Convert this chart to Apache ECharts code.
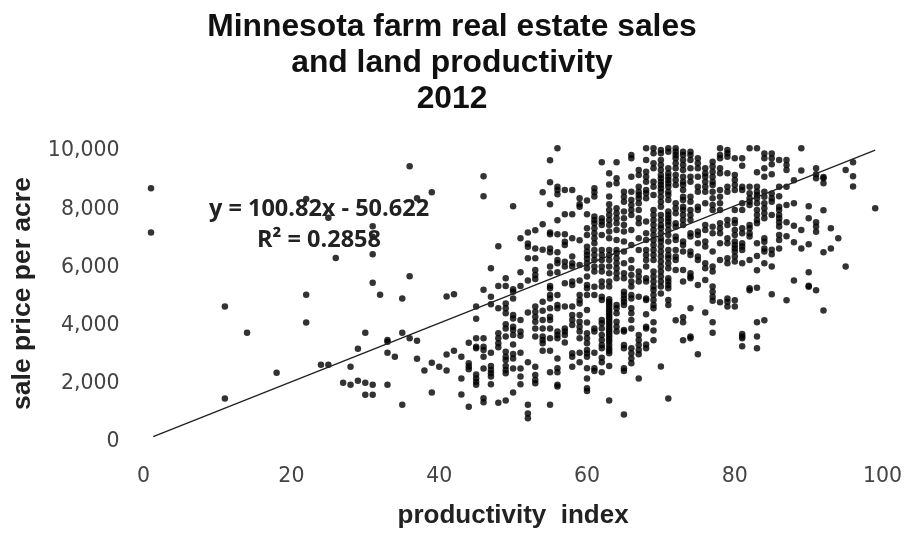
<!DOCTYPE html>
<html><head><meta charset="utf-8">
<script src="https://cdn.jsdelivr.net/npm/echarts@6/dist/echarts.min.js"></script>
<style>html,body{margin:0;padding:0;background:#fff}#c{width:907px;height:533px}</style>
</head><body><div id="c"></div>
<script>
const titleText = "Minnesota farm real estate sales\nand land productivity\n2012";
const xAxisName = "productivity  index";
const yAxisName = "sale price per acre";
const equationText = "y = 100.82x - 50.622\nR² = 0.2858";
const trendLine = [[1.3,80],[99,9930]];
const productivityIndex = [1,11,14,18,22,24,25,26,27,28,29,30,31,32,33,34,35,36,37,38,39,40,41,42,43,44,45,46,47,48,49,50,51,52,53,54,55,56,57,58,59,60,61,62,63,64,65,66,67,68,69,70,71,72,73,74,75,76,77,78,79,80,81,82,83,84,85,86,87,88,89,90,91,92,93,94,95,96,99];
const salePrices = [
[8620,7100],[4550,1390],[3650],[2280],[8250,4960,4000],[2550],[7600,2550],[6220],[1935],[2485,1865],[3100,2000],[3650,1935,1520],
[7310,6950,6345,5370,1865,1520],[4960],[3345,3400,2965,1865],[2830],[4830,3655,1180],[9370,5590,3460],[8270,3380,2760],[2350],[8480,2620,1595],[2485],[4900,2900,2350],[4970,3035],[2830,2075,1525],[3310,2600,2490,2400,1110],
[4550,4135,3460,3170,3115,2220,2085,1970,1860],
[9030,8340,5130,3460,3170,3060,2830,2420,1400,1260],
[5870,4890,4630,2968,2510,2370,2260,2145,1880],
[6620,5260,4490,3630,3460,3290,3150,1250],
[5520,5260,4660,4490,4320,3940,3800,3520,3000,2830,2715,2510,2370,2260,1320],
[8000,5150,5060,4830,4260,4145,3860,3745,3570,3250,2920,2770,2420,1595],
[6900,5730,5260,4090,3690,3550,2968,2420,2145,1880],
[7100,6720,6610,6210,5450,4350,2635,1180,880,710],
[7170,6550,6210,5810,5640,5500,4550,4375,4205,4030,3800,3520,2485,2200,2030,1915],
[8480,7380,6500,4720,4410,4090,3800,3520,3400,3290,3035],
[9575,8820,8065,7100,7035,6550,6420,5925,5695,5260,5180,4950,4830,4490,4205,4090,3800,3460,3035,2290,1180],
[9990,8670,8560,8410,7515,7035,6420,6150,6040,5730,4950,4605,4490,3690,3575,3460,2770,2430,2290,1860,1800],
[8560,7720,7035,6780,6670,6090,5925,5350,4550,3800,3690,3575,3320],
[8560,7720,6900,6270,6040,5925,5410,5295,4550,4260,4090,3920,2945,2830,2485],
[8270,8065,7985,6830,5980,5450,4950,4775,4660,4260,4030,3860,3690,3460,2968,2635],
[8200,7720,7240,7010,6610,6440,6325,6190,6040,5867,5581,5295,5180,4950,4430,4000,3630,3460,3290,3060,2945,2830,2430,2075,1740,1650],
[8615,8480,8330,7642,7527,7413,7241,7069,6898,6726,6497,6325,6153,5924,5753,5230,4950,3800,3690,2968,2430,2340],
[9510,7585,7470,7355,7012,6497,6325,6153,5924,5753,5409,5237,4890,4775,4090,3975,3800,3575,3400,3230,3115,2795,2635,2290],
[9130,8750,8330,8065,7870,7700,7527,7355,7127,6898,6497,6325,6153,5924,5695,5409,5237,4800,4720,4640,4550,4460,4375,4290,4205,4120,4030,3950,3860,3775,3690,3605,3520,3430,3345,3230,3115,3030,2945,2510,1320],
[9510,8958,8787,7928,7756,7585,7413,7184,6840,6497,6382,6211,6039,5867,5695,5524,4605,4490,4320,4030,3860,3690],
[8500,8329,8157,7814,7585,7355,7127,6783,6440,6039,5695,5524,5060,4950,4830,4720,4605,3745,3690,3230,3115,2430,2340,840],
[9760,9645,9016,8500,8214,8043,7871,7699,7184,6669,6153,5867,5638,5409,5237,4950,4830,4490,4320,4090,3800,3115,2945,2770,2600],
[9245,9073,8672,8500,8386,8272,8100,7871,7585,7413,6898,6497,5753,5581,5409,4890,3575,3400,3230,3060,2910,2075],
[9989,9588,9188,9016,8844,8558,8443,8272,7470,7069,6840,6497,6325,6153,5924,5524,5409,4830,4775,4285,3860,3800,3250,3115],
[9989,9817,9474,9302,8844,8672,8386,7871,7699,7527,7355,7184,7012,6840,6669,6497,6325,6153,5753,5581,5409,5237,5120,4950,4775,4605,4490,4010,3725,3390],
[9932,9817,9588,9416,9245,9073,8958,8844,8730,8615,8500,8329,8157,7985,7699,7527,7355,7241,7069,6898,6783,6611,6440,6268,6096,5924,5753,5581,5409,5237,5000,2490],
[9989,9875,9302,9130,9016,8901,8787,8672,8500,8386,8214,7814,7699,7585,7470,7355,7184,7012,6783,6497,6325,6211,6039,5867,5524,5409,5295,5180,4775,4605,1390],
[9989,9875,9760,9645,9474,9302,9073,8901,8730,8100,7928,7756,7413,7298,6955,6840,6497,6268,6153,5810,4080],
[9875,9760,9588,9416,9245,9016,8844,8730,8558,8329,8214,7985,7871,7699,7527,7355,6783,6669,6440,5810,5409,4180,4010,3390],
[9875,9760,9588,9302,9016,8844,8329,8157,7871,7699,7527,7069,6955,6440,6325,5695,5581,5524,4490,3520,3460],
[9645,9474,9302,9016,8672,8500,7985,7871,7127,7012,6726,6268,6153,5295,2910],
[9302,9130,9016,8844,8672,8500,8100,7355,7184,6783,6611,6039,5867,5466,4350],
[9530,9360,9188,9016,8844,8730,8500,8272,8043,7871,7298,7069,6440,5924,5753,5237,5060,4890,4750,4010,3655],
[9989,9760,9645,9302,9130,8558,8329,8100,7871,7413,7241,7069,6726,6153,4700],
[9932,9817,9702,9130,8672,8500,7527,7355,6898,6726,6211,6039,4830,4720,4550],
[9645,9073,8901,8730,8558,7871,7527,7413,7184,7012,6783,6669,6554,6440,6268,6096,4765,4550],
[9645,9390,8672,8558,8100,7871,7241,7069,6726,6611,6497,6039,3610,3520,3460,3185],
[9989,8672,8443,8272,8157,8043,7355,7241,7069,6955,6153,5180,5110],
[9989,9165,8672,8500,8386,8272,8100,7871,7699,7527,7413,6726,6290,5800,5200,4010,3520,3115],
[9815,9645,9300,9015,8500,8329,8100,7928,7756,7585,6900,6780,6550,6440,6040,4080],
[9815,9645,9440,9095,8440,8270,8155,7700,6500,6350,5925,4970],
[9590,8670,8340,7985,7870,7700,7585,7450,7300,7010,6840,6550],
[9590,9415,9245,8670,8040,7450,6965,4765],
[8890,8100,7330,6760,5450],
[9990,9230,7185,6550],
[7995,7585,6690,5730,5270,5235],
[9300,9095,8960,7450,7300,7125,5110],
[9000,8960,8790,7860,6420,4420],
[7240,6550],[6900],[9245,5930],[9510,9030,8680],[7930]
];
const points = [];
productivityIndex.forEach((x,i)=>salePrices[i].forEach(v=>points.push([x,v])));
const chart = echarts.init(document.getElementById('c'),null,{renderer:'canvas'});
const font = '"Liberation Sans",Arial,sans-serif';
chart.setOption({
  animation:false,
  backgroundColor:'#fff',
  title:[
    {text:titleText,left:447,top:4,textAlign:'center',textStyle:{fontFamily:font,fontSize:31.8,fontWeight:'bold',color:'#111',lineHeight:36,align:'center'}},
    {text:equationText,left:314,top:189,textAlign:'center',z:10,textStyle:{fontFamily:'"Open Sans",sans-serif',fontSize:23.5,fontWeight:'bold',color:'#222',lineHeight:31,align:'center'}}
  ],
  grid:{left:143.6,right:24.4,top:148,bottom:94,outerBoundsMode:'none'},
  xAxis:{type:'value',min:0,max:100,interval:20,name:xAxisName,nameLocation:'middle',nameGap:64,
    nameTextStyle:{fontFamily:font,fontSize:26,fontWeight:'bold',color:'#222'},
    axisLine:{show:false},axisTick:{show:false},splitLine:{show:false},
    axisLabel:{margin:27,fontFamily:'"DejaVu Sans",sans-serif',fontSize:20.5,color:'#444'}},
  yAxis:{type:'value',min:0,max:10000,interval:2000,name:yAxisName,nameLocation:'middle',nameGap:107,nameRotate:90,
    nameTextStyle:{fontFamily:font,fontSize:26.5,fontWeight:'bold',color:'#222'},
    axisLine:{show:false},axisTick:{show:false},splitLine:{show:false},
    axisLabel:{margin:24,verticalAlign:'top',lineHeight:6,fontFamily:'"DejaVu Sans",sans-serif',fontSize:20.5,color:'#444',
      formatter:v=>v.toLocaleString('en-US')}},
  series:[
    {type:'scatter',data:points,symbol:'circle',symbolSize:6.5,itemStyle:{color:'#000'},silent:true,z:2},
    {type:'line',data:trendLine,symbol:'none',lineStyle:{color:'#222',width:1.4},silent:true,z:3}
  ]
});
</script></body></html>
